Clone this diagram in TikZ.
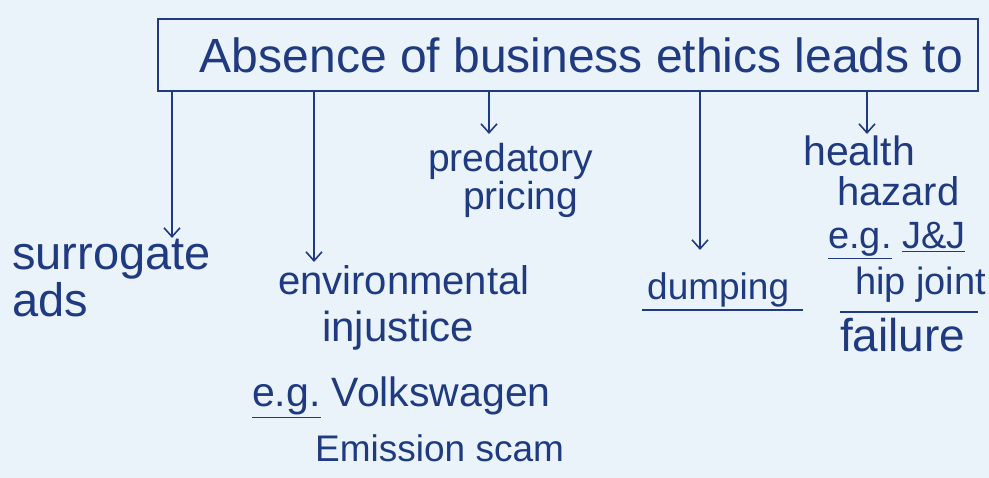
\documentclass[tikz,border=0pt]{standalone}
\usepackage{fontspec}
\setmainfont{Liberation Sans}
\usetikzlibrary{arrows.meta}
\definecolor{ink}{HTML}{1F3A80}
\definecolor{paper}{HTML}{EAF3F9}
\begin{document}
\begin{tikzpicture}[x=1pt,y=-1pt,
  txt/.style={anchor=base west, inner sep=0pt, text=ink},
  fs/.style={font=\fontsize{#1}{#1}\selectfont},
  arr/.style={draw=ink, line width=1.6pt, -{Straight Barb[length=9pt,width=16pt,line width=1.6pt]}},
  titlebox/.style={draw=ink, line width=1.6pt, minimum width=820pt, minimum height=72pt, inner sep=0pt, text=ink, font=\fontsize{48}{52}\selectfont},
  uline/.style={draw=ink, line width=1.6pt}]
\fill[paper] (0,0) rectangle (989,478);
\useasboundingbox (0,0) rectangle (989,478);

\node[titlebox] (title) at (568,55) {\hspace*{27pt}Absence of business ethics leads to};

% labels
\node[txt,fs=47] (sur1) at (12,270) {surrogate};
\node[txt,fs=47] (sur2) at (12,317) {ads};

\node[txt,fs=40] (env1) at (278,295) {environmental};
\node[txt,fs=42] (env2) at (322,342) {injustice};
\node[txt,fs=41] (env3) at (252,407) {\underline{e.g.} Volkswagen};
\node[txt,fs=37] (env4) at (315,461) {Emission scam};

\node[txt,fs=39] (pre1) at (428,172) {predatory};
\node[txt,fs=39] (pre2) at (463,210) {pricing};

\node[txt,fs=37] (dump) at (647,300) {dumping};

\node[txt,fs=41] (hea1) at (803,166) {health};
\node[txt,fs=40] (hea2) at (837,206) {hazard};
\node[txt,fs=38] (hea3) at (828,249) {\underline{e.g.} \underline{J\&J}};
\node[txt,fs=38] (hea4) at (855,295) {hip joint};
\node[txt,fs=46] (hea5) at (840,352) {failure};

% underlines
\draw[uline] ([xshift=-5pt,yshift=-10pt]dump.base west) -- ([xshift=14pt,yshift=-10pt]dump.base east);
\draw[uline] ([xshift=-15pt,yshift=-17pt]hea4.base west) -- ([xshift=-8pt,yshift=-17pt]hea4.base east);

% arrow end points
\coordinate (a1) at (172,238);
\coordinate (a2) at (314,262);
\coordinate (a3) at (489,134);
\coordinate (a4) at (700,250);
\coordinate (a5) at (867,134);

\draw[arr] (title.south -| a1) -- (a1);
\draw[arr] (title.south -| a2) -- (a2);
\draw[arr] (title.south -| a3) -- (a3);
\draw[arr] (title.south -| a4) -- (a4);
\draw[arr] (title.south -| a5) -- (a5);
\end{tikzpicture}
\end{document}
